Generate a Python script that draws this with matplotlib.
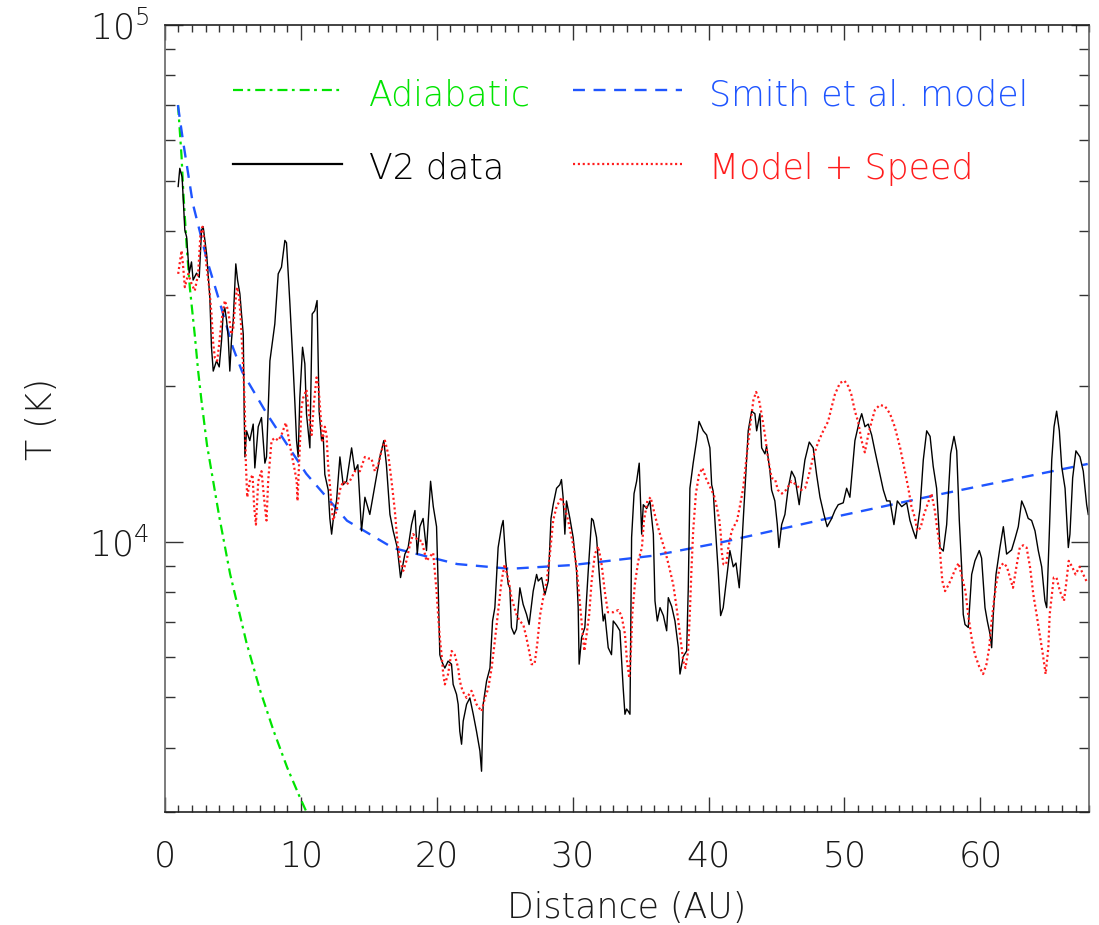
"""Temperature vs. heliocentric distance: V2 data against two models."""

import math

import matplotlib

matplotlib.use("Agg")
import matplotlib.pyplot as plt
from matplotlib.ticker import FixedLocator, FuncFormatter, LogLocator, MultipleLocator, NullFormatter

# adiabatic cooling curve
adiabatic_r = [0.97, 1.23, 1.35, 1.6, 1.84, 2.21, 2.45, 2.7, 3.1, 4.0, 4.8, 6.0, 7.0, 8.0, 9.0, 9.9, 10.6]
adiabatic_t = [70000, 55600, 47900, 37500, 31000, 25000, 21400, 18700, 15400, 11200, 8670, 6390, 5170, 4310, 3660, 3220, 2930]

# Smith et al. model
smith_r = [0.96, 1.33, 2.06, 3.1, 4.0, 5.0, 5.7, 7.5, 10.4, 13.4, 16.8, 21.5, 25.4, 30.0, 35.9, 40.8, 49.1, 56.5, 67.9]
smith_t = [70000, 59800, 45100, 35100, 29300, 23800, 21300, 17700, 13550, 10990, 9730, 9060, 8870, 9020, 9400, 9960, 11150, 12280, 14150]

# Voyager 2 temperatures
v2_r = [
    0.98, 1.10, 1.27, 1.47, 1.60, 1.72, 1.79, 1.96, 2.08, 2.33, 2.53, 2.70, 2.82, 3.07, 3.31, 3.43,
    3.56, 3.80, 4.00, 4.17, 4.29, 4.41, 4.54, 4.66, 4.78, 4.90, 5.03, 5.22, 5.35, 5.52, 5.64, 5.77,
    5.84, 5.89, 6.01, 6.25, 6.50, 6.62, 6.87, 7.11, 7.36, 7.48, 7.73, 8.09, 8.34, 8.58, 8.83, 8.95,
    9.20, 9.44, 9.57, 9.69, 9.81, 9.93, 10.13, 10.30, 10.42, 10.67, 10.84, 11.03, 11.20, 11.35, 11.53,
    11.65, 11.77, 12.02, 12.14, 12.27, 12.38, 12.63, 12.88, 13.12, 13.37, 13.74, 13.98, 14.20, 14.47,
    14.72, 15.08, 15.30, 15.82, 16.11, 16.30, 16.56, 16.80, 17.10, 17.34, 17.66, 17.90, 18.15, 18.40,
    18.57, 18.76, 19.00, 19.25, 19.55, 19.75, 19.99, 20.10, 20.23, 20.36, 20.60, 20.84, 21.09, 21.21,
    21.46, 21.58, 21.70, 21.83, 21.95, 22.20, 22.44, 22.69, 22.93, 23.18, 23.30, 23.42, 23.67, 23.92,
    24.11, 24.28, 24.52, 24.77, 24.89, 25.08, 25.26, 25.38, 25.50, 25.70, 25.87, 26.12, 26.36, 26.61,
    26.80, 27.10, 27.35, 27.47, 27.72, 27.96, 28.21, 28.41, 28.57, 28.82, 29.06, 29.18, 29.30, 29.43,
    29.55, 29.80, 30.04, 30.29, 30.41, 30.48, 30.66, 30.90, 31.15, 31.40, 31.52, 31.76, 32.00, 32.25,
    32.37, 32.62, 32.86, 32.99, 33.23, 33.48, 33.72, 33.85, 33.97, 34.10, 34.22, 34.34, 34.52, 34.71,
    34.90, 35.08, 35.20, 35.45, 35.69, 35.94, 36.06, 36.23, 36.43, 36.68, 36.92, 37.04, 37.29, 37.53,
    37.78, 37.90, 38.14, 38.39, 38.51, 38.63, 38.87, 39.12, 39.30, 39.61, 39.86, 40.10, 40.23, 40.35,
    40.47, 40.71, 40.89, 41.08, 41.28, 41.57, 41.82, 42.02, 42.26, 42.44, 42.68, 42.92, 43.17, 43.41,
    43.54, 43.78, 43.91, 44.15, 44.27, 44.52, 44.64, 44.88, 45.06, 45.18, 45.38, 45.62, 45.86, 46.11,
    46.36, 46.67, 46.85, 47.09, 47.41, 47.70, 47.95, 48.20, 48.49, 48.73, 49.06, 49.30, 49.54, 49.91,
    50.16, 50.40, 50.77, 51.09, 51.27, 51.51, 51.75, 52.00, 52.24, 52.61, 52.86, 53.11, 53.35, 53.64,
    53.89, 54.21, 54.58, 54.82, 55.06, 55.26, 55.56, 55.80, 56.05, 56.30, 56.53, 56.78, 57.03, 57.27,
    57.52, 57.81, 58.06, 58.26, 58.45, 58.62, 58.74, 58.87, 59.11, 59.36, 59.60, 59.92, 60.09, 60.34,
    60.51, 60.71, 60.83, 60.95, 61.15, 61.44, 61.69, 61.93, 62.30, 62.55, 62.79, 63.04, 63.28, 63.52,
    63.77, 64.02, 64.26, 64.51, 64.75, 64.88, 65.07, 65.25, 65.42, 65.61, 65.81, 65.98, 66.23, 66.47,
    66.59, 66.79, 67.03, 67.33, 67.57, 67.82, 67.94,
]
v2_t = [
    48700, 52800, 50800, 40100, 38900, 35100, 33100, 34800, 32100, 33100, 32500, 40100, 40700, 36100, 29700, 23800,
    21400, 22400, 21800, 24500, 27600, 28400, 26800, 24900, 21400, 24500, 26800, 34500, 32100, 30200, 27600, 25200,
    17700, 14600, 16400, 15700, 16900, 13900, 16700, 17400, 14200, 14600, 22400, 26400, 33000, 34000, 38300, 37900,
    28900, 21800, 18500, 15700, 14600, 19000, 23800, 22100, 17700, 15200, 27600, 28000, 29300, 17900, 15700,
    16100, 13500, 12600, 11100, 10350, 10990, 12000, 14600, 12900, 13100, 15200, 13700, 14100, 10500,
    12200, 11300, 12200, 14600, 15700, 14100, 11300, 10500, 9750, 8530, 9470, 9750, 10800, 11500,
    9470, 10700, 11100, 9620, 13100, 11700, 10700, 8400, 6050, 5880, 5700, 5880, 5800, 5300,
    5070, 4850, 4300, 4060, 4500, 4850, 4990, 4640, 4300, 3940, 3600, 4850, 5380, 5700,
    7030, 7460, 9750, 10700, 11000, 9190, 8280, 8150, 6830, 6630, 6780, 8150, 7570, 7240,
    6920, 8030, 8650, 8400, 8530, 7900, 8400, 11100, 11800, 12700, 12900, 13200, 12200, 10350,
    12000, 11100, 10200, 8790, 7460, 5800, 6530, 6830, 8790, 11100, 11000, 10200, 8400, 7030,
    7250, 6240, 6050, 7030, 6900, 6730, 5220, 4640, 4750, 4700, 4640, 10200, 12400, 13100,
    14200, 10350, 11800, 11600, 12000, 10350, 7690, 7030, 7460, 7200, 6730, 7800, 7500, 7030,
    6240, 5550, 6000, 6150, 8150, 12700, 14200, 15700, 17100, 16400, 16100, 15200, 12900, 12500,
    11000, 8790, 7200, 7460, 8280, 9620, 8950, 9100, 8150, 9750, 12700, 16400, 17900, 17700,
    16400, 17700, 15200, 14800, 15300, 13700, 12600, 12000, 10800, 9750, 10800, 11300, 12700, 13700,
    13300, 11800, 12900, 14400, 15600, 15200, 13500, 12200, 11300, 10700, 11100, 11500, 11800, 11900,
    12700, 12200, 15700, 17100, 17700, 16700, 16900, 16100, 15000, 13500, 12600, 12000, 12000, 10800,
    12000, 11700, 11900, 11000, 10500, 10150, 11600, 14400, 16400, 16000, 14000, 12700, 9750, 9600,
    10800, 14800, 16000, 15000, 11000, 8950, 7240, 6920, 6830, 8650, 9190, 9620, 9300, 7460,
    7030, 6630, 6240, 7240, 8650, 9750, 10700, 9470, 9650, 10150, 10700, 12000, 11600, 11100,
    11000, 10500, 9620, 8950, 7690, 7460, 10350, 14400, 16700, 17900, 16400, 14000, 12700, 9750,
    10350, 13300, 15000, 14600, 13700, 11800, 11300,
]

# Smith et al. model with the observed wind speed
speed_r = [
    0.98, 1.23, 1.35, 1.47, 1.72, 1.96, 2.20, 2.45, 2.62, 2.77, 2.94, 3.07, 3.26, 3.43, 3.56, 3.68,
    3.85, 4.00, 4.17, 4.41, 4.66, 4.90, 5.03, 5.15, 5.31, 5.46, 5.59, 5.71, 5.81, 5.89, 5.96, 6.06,
    6.25, 6.45, 6.57, 6.70, 6.87, 7.11, 7.36, 7.48, 7.60, 7.85, 8.10, 8.34, 8.58, 8.90, 9.07, 9.32,
    9.57, 9.70, 9.76, 9.90, 10.05, 10.18, 10.42, 10.60, 10.80, 10.97, 11.16, 11.30, 11.45, 11.60,
    11.77, 11.90, 12.00, 12.14, 12.27, 12.38, 12.63, 12.88, 13.12, 13.37, 13.60, 13.98, 14.35, 14.72,
    14.96, 15.20, 15.45, 15.70, 15.94, 16.19, 16.43, 16.68, 16.92, 17.10, 17.30, 17.54, 17.78, 18.03,
    18.27, 18.64, 18.90, 19.25, 19.74, 19.99, 20.10, 20.23, 20.36, 20.48, 20.60, 20.84, 21.10, 21.33,
    21.58, 21.70, 21.90, 22.20, 22.56, 22.93, 23.30, 23.55, 23.79, 24.04, 24.28, 24.52, 24.77, 25.00,
    25.30, 25.50, 25.87, 26.10, 26.37, 26.60, 26.80, 26.98, 27.20, 27.40, 27.60, 27.84, 28.09, 28.33,
    28.57, 28.82, 29.20, 29.40, 29.67, 30.04, 30.29, 30.54, 30.70, 30.86, 31.00, 31.22, 31.40, 31.64,
    31.88, 32.10, 32.40, 32.60, 33.00, 33.36, 33.60, 33.85, 34.00, 34.17, 34.30, 34.39, 34.58, 34.83,
    35.10, 35.25, 35.50, 35.74, 35.90, 36.23, 36.50, 36.80, 37.10, 37.40, 37.65, 37.90, 38.14, 38.30,
    38.50, 38.63, 38.74, 38.87, 39.07, 39.30, 39.55, 39.80, 40.15, 40.40, 40.60, 40.80, 40.90, 40.96,
    41.10, 41.30, 41.46, 41.70, 42.10, 42.30, 42.55, 42.80, 43.05, 43.30, 43.50, 43.70, 43.90, 44.15,
    44.40, 44.64, 44.90, 45.10, 45.40, 45.70, 46.10, 46.45, 46.80, 47.10, 47.33, 47.70, 48.07, 48.44,
    48.80, 49.05, 49.30, 49.67, 50.00, 50.28, 50.50, 50.77, 51.00, 51.26, 51.50, 51.75, 52.00, 52.24,
    52.60, 52.98, 53.35, 53.70, 54.10, 54.45, 54.70, 54.93, 55.20, 55.35, 55.60, 55.85, 56.20, 56.40,
    56.65, 56.80, 57.00, 57.08, 57.20, 57.40, 57.65, 57.90, 58.10, 58.40, 58.60, 58.90, 59.10, 59.35,
    59.60, 59.90, 60.20, 60.45, 60.65, 60.80, 61.00, 61.20, 61.45, 61.70, 61.95, 62.18, 62.40, 62.65,
    62.90, 63.15, 63.40, 63.65, 63.90, 64.15, 64.40, 64.60, 64.80, 65.00, 65.10, 65.40, 65.60, 65.85,
    66.15, 66.30, 66.50, 66.75, 67.00, 67.30, 67.57, 67.80,
]
speed_t = [
    33000, 36600, 34000, 31100, 33000, 31600, 30600, 33000, 39400, 40700, 37200, 34000, 31100, 27600, 24200, 22700,
    22400, 24200, 26800, 29300, 28000, 25200, 25900, 28400, 31100, 29800, 26800, 23100, 20500, 17700, 14200, 12200,
    13100, 13500, 11700, 10800, 13100, 13700, 11700, 11000, 13100, 15700, 15900, 15700, 16100, 17000, 16100, 14800,
    13700, 13100, 12000, 14600, 18200, 19000, 19700, 17700, 16100, 18600, 20800, 20000, 17700, 15700,
    16700, 16100, 14200, 12900, 11700, 11000, 11500, 12600, 13100, 12900, 13100, 13700, 13700, 14600,
    14500, 14500, 13700, 14100, 15000, 15700, 14800, 13100, 11500, 10050, 9190, 8790, 9200, 9880,
    10350, 10050, 10050, 9190, 9530, 8030, 7240, 6530, 6050, 5550, 5300, 5550, 6150, 6050,
    5700, 5380, 5150, 4990, 5150, 4850, 4700, 4990, 5200, 5700, 6440, 7340, 8400, 9050,
    8400, 7800, 7240, 7030, 6920, 6530, 6150, 5800, 5800, 6350, 7200, 7800, 8400, 9470,
    11000, 11700, 12200, 11700, 11000, 9880, 8950, 7570, 6830, 6150, 6530, 7240, 8400, 9470,
    9800, 9190, 7900, 7310, 7310, 7380, 7200, 6630, 5880, 5450, 6240, 7240, 8280, 9190,
    9750, 11000, 12000, 12200, 11700, 10800, 10200, 9620, 8950, 8280, 7460, 6630, 5880, 5700,
    6150, 7340, 8790, 10500, 12400, 13500, 13900, 13300, 12700, 12300, 11700, 11000, 10350, 9620,
    9050, 9050, 9750, 10500, 11000, 11700, 12700, 14600, 16700, 18800, 19500, 18900, 17700, 16100,
    14400, 13300, 13200, 12600, 12400, 12600, 13100, 12900, 12600, 12700, 13300, 14600, 15600, 16400,
    17100, 18200, 19300, 20300, 20500, 20000, 19300, 17900, 17100, 15700, 14900, 16100, 17100, 18000,
    18400, 18300, 17700, 16700, 15200, 13700, 12700, 11700, 11100, 10500, 10650, 11300, 12000, 12400,
    11500, 10700, 9880, 9190, 8400, 8030, 8250, 8530, 8790, 9100, 8650, 8030, 7240, 6530,
    6050, 5750, 5550, 5800, 6240, 6920, 7690, 8400, 8950, 9100, 8950, 8530, 8150, 8950,
    9750, 9850, 9750, 8950, 7900, 7200, 6530, 6050, 5550, 6240, 7240, 8530, 8530, 8030,
    7690, 8250, 9190, 8950, 8650, 8950, 8650, 8400,
]

GREEN = "#00e400"
BLUE = "#1f55ff"
RED = "#ff1c1c"
TEXT = "#1a1a1a"

plt.rcParams["font.family"] = ["DejaVu Sans"]
plt.rcParams["font.weight"] = 200
plt.rcParams["axes.labelweight"] = 200
plt.rcParams["font.size"] = 25
plt.rcParams["mathtext.fontset"] = "custom"
plt.rcParams["mathtext.rm"] = "DejaVu Sans:weight=200"
plt.rcParams["lines.scale_dashes"] = False

fig = plt.figure(figsize=(10.99, 9.25), dpi=100)
ax = fig.add_axes([0.150, 0.122, 0.841, 0.851])

ax.plot(adiabatic_r, adiabatic_t, color=GREEN, lw=1.6, dashes=(7.2, 3.2, 2.0, 3.6))
ax.plot(smith_r, smith_t, color=BLUE, lw=1.7, dashes=(8.6, 6.2))
ax.plot(v2_r, v2_t, color="black", lw=1.0)
ax.plot(speed_r, speed_t, color=RED, lw=1.6, dashes=(1.5, 2.0))

ax.set_yscale("log")
ax.set_xlim(0, 68)
ax.set_ylim(3000, 1e5)

ax.xaxis.set_major_locator(MultipleLocator(10))
ax.xaxis.set_minor_locator(MultipleLocator(1))
ax.yaxis.set_major_locator(FixedLocator([1e4, 1e5]))
ax.yaxis.set_major_formatter(FuncFormatter(lambda v, pos: r"$\mathrm{10^{%d}}$" % round(math.log10(v))))
ax.yaxis.set_minor_locator(LogLocator(base=10, subs=range(2, 10)))
ax.yaxis.set_minor_formatter(NullFormatter())

ax.tick_params(which="both", direction="in", top=True, right=True, colors="#333333", labelcolor=TEXT)
ax.tick_params(axis="x", which="major", length=11, width=1.0, pad=20)
ax.tick_params(axis="x", which="minor", length=5, width=1.0)
ax.tick_params(axis="y", which="major", length=13, width=1.0, pad=11)
ax.tick_params(axis="y", which="minor", length=7, width=1.0)
for side in ("top", "bottom"):
    ax.spines[side].set_color("#222222")
for side in ("left", "right"):
    ax.spines[side].set_color("#666666")
for spine in ax.spines.values():
    spine.set_linewidth(1.2)

ax.set_xlabel("Distance (AU)", color=TEXT, labelpad=12)
ax.set_ylabel("T (K)", color=TEXT, labelpad=22)


def legend_entry(x0, y, label, color, **line_kw):
    """Draw one legend row: a short line sample and a coloured label."""
    ax.plot([x0, x0 + 0.118], [y, y], transform=ax.transAxes, color=color, clip_on=False, **line_kw)
    ax.text(x0 + 0.147, y - 0.0195, label, color=color, transform=ax.transAxes, va="baseline")


legend_entry(0.0736, 0.917, "Adiabatic", GREEN, lw=1.6, dashes=(7.2, 3.2, 2.0, 3.6))
legend_entry(0.0736, 0.824, "V2 data", "black", lw=1.6)
legend_entry(0.4416, 0.917, "Smith et al. model", BLUE, lw=1.7, dashes=(8.6, 6.2))
legend_entry(0.4416, 0.824, "Model + Speed", RED, lw=1.6, dashes=(1.5, 2.0))

fig.savefig("out.png", dpi=100)
